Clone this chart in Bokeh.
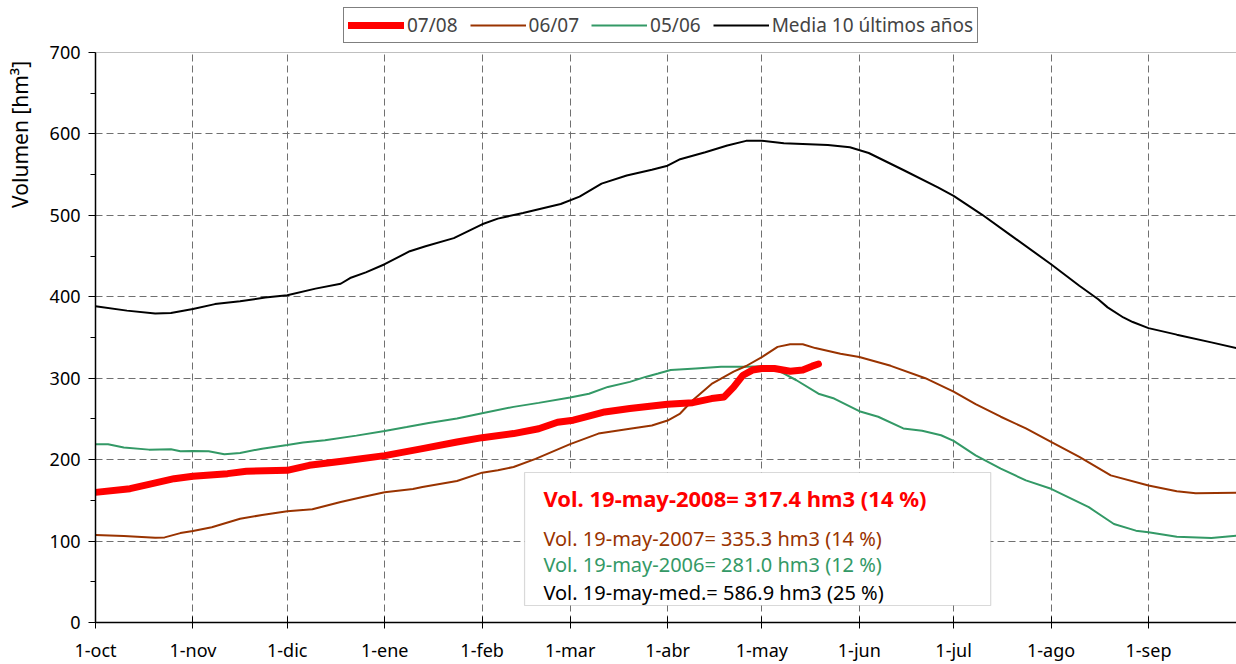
from bokeh.plotting import figure
from bokeh.layouts import column
from bokeh.models import (FixedTicker, SingleIntervalTicker, Legend, LegendItem,
                          Label, Span, Range1d, BoxAnnotation)
from bokeh.embed import file_html
from bokeh.resources import INLINE

# ---------------- data ----------------
month_ticks = [0, 31, 61, 92, 123, 151, 182, 212, 243, 273, 304, 335]
month_labels = ["1-oct", "1-nov", "1-dic", "1-ene", "1-feb", "1-mar",
                "1-abr", "1-may", "1-jun", "1-jul", "1-ago", "1-sep"]

# day index counted from 1-oct
media_days = [0, 10, 19, 24, 31, 38, 46, 54, 61, 70, 78, 81, 86, 92, 100, 105, 114,
              123, 128, 136, 148, 154, 161, 169, 177, 182, 186, 194, 201, 207, 212,
              219, 233, 240, 246, 257, 268, 273, 282, 291, 304, 313, 319, 322, 327,
              330, 335, 344, 355, 363]
media_vals = [388.5, 383, 379.5, 380, 385, 391, 394.5, 399, 401.8, 410, 416, 423, 430,
              440, 456, 462, 472, 489, 496, 503, 514, 523, 539, 549, 556, 561, 569,
              577.5, 585.7, 591.5, 591.5, 588.5, 586.5, 583.6, 576.6, 555.7, 534.4,
              524, 501, 476, 440, 413.5, 397, 387, 374.6, 369, 361.5, 353.5, 344, 337]

y0708_days = [0, 11, 17, 25, 31, 42, 48, 61, 68, 79, 92, 104, 115, 123, 133, 141, 147,
              152, 156, 162, 170, 182, 190, 196, 200, 203, 206, 209, 212, 216, 221,
              225, 228, 230]
y0708_vals = [159.8, 164.3, 169.7, 176.6, 179.5, 182.8, 185.7, 186.9, 193, 198.4, 204.9,
              213.5, 221.7, 227, 232, 238, 246, 248.4, 252.5, 258.6, 262.7, 268, 270,
              275, 277, 289, 303.7, 310, 312, 312, 308.6, 310, 314.8, 317.4]

y0607_days = [0, 9, 19, 22, 27, 31, 37, 46, 53, 61, 69, 78, 85, 92, 101, 104, 115, 123,
              128, 133, 140, 151, 160, 170, 177, 182, 186, 190, 196, 203, 207, 212,
              217, 221, 225, 229, 237, 243, 253, 264, 273, 280, 288, 296, 304, 313,
              323, 335, 344, 350, 363]
y0607_vals = [107.4, 106.1, 104.1, 104.5, 109.8, 112.3, 117, 127.5, 132, 136.5, 139,
              148, 154, 160, 164, 166.4, 173.8, 184, 187, 191, 201, 219, 232, 238, 242,
              248, 256.6, 273, 293, 308, 315, 326, 338.5, 341.8, 341.8, 337, 330, 326,
              315.2, 300, 283.5, 268.3, 252.7, 238.3, 221.8, 203.3, 180.7, 168.3,
              161.3, 158.8, 159.2]

y0506_days = [0, 4, 9, 17, 24, 27, 31, 36, 41, 46, 53, 61, 66, 73, 83, 92, 99, 106, 115,
              123, 133, 141, 151, 157, 163, 170, 175, 179, 183, 191, 199, 207, 212, 218,
              223, 230, 235, 243, 249, 257, 263, 269, 273, 280, 288, 296, 304, 316, 324,
              331, 335, 344, 355, 363]
y0506_vals = [218.9, 218.9, 214.8, 212.3, 212.7, 210.2, 210.7, 210.2, 206.6, 208.2,
              213.5, 218, 221, 223.8, 229.5, 235.2, 240, 245, 250.4, 257, 264.8, 269.7,
              276.2, 281, 289.3, 295.5, 301.6, 305.7, 310, 312, 314, 314, 314.8, 307.8,
              297.5, 281, 275, 259.5, 252.7, 238.3, 235.4, 230, 223, 205.3, 188.9, 174.5,
              164.2, 141.6, 121, 112.8, 110.7, 105.3, 103.7, 106.6]

legend_labels = ["07/08", "06/07", "05/06", "Media 10 últimos años"]
box_lines = ["Vol. 19-may-2008= 317.4 hm3 (14 %)",
             "Vol. 19-may-2007= 335.3 hm3 (14 %)",
             "Vol. 19-may-2006= 281.0 hm3 (12 %)",
             "Vol. 19-may-med.= 586.9 hm3 (25 %)"]
y_axis_title = "Volumen [hm³]"

# ---------------- styles ----------------
FONT = "Noto Sans"
RED = "#FF0000"
BROWN = "#993300"
GREEN = "#339966"
BLACK = "#000000"
GRID = "#707070"
STYLES = [dict(line_color=RED, line_width=7, line_cap="round", line_join="round"),
          dict(line_color=BROWN, line_width=2),
          dict(line_color=GREEN, line_width=2),
          dict(line_color=BLACK, line_width=2)]

# ---------------- main chart ----------------
p = figure(width=1236, height=620, output_backend="svg", toolbar_location=None,
           x_range=Range1d(0, 363), y_range=Range1d(0, 700),
           min_border_left=95, min_border_right=0, min_border_top=8,
           min_border_bottom=42)
p.outline_line_color = None
p.background_fill_color = "white"
p.border_fill_color = "white"

p.xgrid.ticker = FixedTicker(ticks=month_ticks)
for g in (p.xgrid, p.ygrid):
    g.grid_line_color = GRID
    g.grid_line_dash = "7 4"
    g.grid_line_width = 1

p.xaxis.ticker = FixedTicker(ticks=month_ticks)
p.xaxis.major_label_overrides = {t: l for t, l in zip(month_ticks, month_labels)}
p.xaxis.major_tick_in = 6
p.xaxis.major_tick_out = 6
p.xaxis.major_label_standoff = 9

p.yaxis.ticker = SingleIntervalTicker(interval=100, num_minor_ticks=2)
p.yaxis.major_tick_in = 0
p.yaxis.major_tick_out = 7
p.yaxis.minor_tick_in = 0
p.yaxis.minor_tick_out = 5
p.yaxis.major_label_standoff = 8
p.yaxis.axis_label_standoff = 13
p.yaxis.axis_label_text_font = FONT
p.yaxis.axis_label_text_font_size = "21px"
p.yaxis.axis_label_text_font_style = "normal"
p.yaxis.axis_label_text_color = BLACK
yax = p.yaxis[0]
if "axis_label_align" in yax.properties():
    # the label is centred on the top end of the axis; trailing no-break spaces
    # push the visible words down so they sit just below the top, as in the original
    yax.axis_label_align = "end"
    p.yaxis.axis_label = y_axis_title + "\u00a0" * 30
else:
    p.yaxis.axis_label = y_axis_title

for ax in (p.xaxis, p.yaxis):
    ax.axis_line_color = BLACK
    ax.axis_line_width = 1.5
    ax.major_tick_line_color = BLACK
    ax.minor_tick_line_color = BLACK
    ax.major_label_text_font = FONT
    ax.major_label_text_font_size = "18px"
    ax.major_label_text_color = BLACK
p.xaxis.minor_tick_line_color = None

p.add_layout(Span(location=700, dimension="width", line_color="#808080", line_width=1))

p.line(media_days, media_vals, **STYLES[3])
p.line(y0506_days, y0506_vals, **STYLES[2])
p.line(y0607_days, y0607_vals, **STYLES[1])
p.line(y0708_days, y0708_vals, **STYLES[0])

# info box
p.add_layout(BoxAnnotation(left=136.5, right=284.8, bottom=20.9, top=184.2,
                           fill_color="white", fill_alpha=1,
                           line_color="#808080", line_width=1.2))
box_colors = [RED, BROWN, GREEN, BLACK]
box_sizes = ["22px", "20px", "20px", "20px"]
box_y = [153.5, 103.2, 71.2, 36.8]
for i, txt in enumerate(box_lines):
    p.add_layout(Label(x=142.5, y=box_y[i], text=txt, text_font=FONT,
                       text_font_size=box_sizes[i], text_color=box_colors[i],
                       text_font_style="bold" if i == 0 else "normal",
                       text_baseline="middle", text_align="left"))

# ---------------- legend strip above the chart ----------------
# its frame is aligned with the main frame (starts at x=95); the series drawn here
# lie outside its range, so only the legend is visible
lg = figure(width=1236, height=44, output_backend="svg", toolbar_location=None,
            x_range=Range1d(-1000, -999), y_range=Range1d(-1000, -999),
            min_border_left=0, min_border_right=0, min_border_top=0,
            min_border_bottom=0)
lg.axis.visible = False
lg.grid.visible = False
lg.outline_line_color = None
lg.background_fill_color = "white"
lg.border_fill_color = "white"
series = [(y0708_days, y0708_vals), (y0607_days, y0607_vals),
          (y0506_days, y0506_vals), (media_days, media_vals)]
rends = [lg.line(series[i][0], series[i][1], **STYLES[i]) for i in range(4)]
legend = Legend(items=[LegendItem(label=legend_labels[i], renderers=[rends[i]]) for i in range(4)],
                location=(248, 1), orientation="horizontal",
                glyph_width=56, glyph_height=20, label_standoff=3, spacing=12,
                padding=4, margin=0, label_text_font=FONT,
                label_text_font_size="19px", label_height=20,
                border_line_color=BLACK, border_line_width=1,
                background_fill_color="white", background_fill_alpha=1)
lg.add_layout(legend)

layout = column(lg, p, spacing=0)
open("out.html", "w").write(file_html(layout, INLINE))
